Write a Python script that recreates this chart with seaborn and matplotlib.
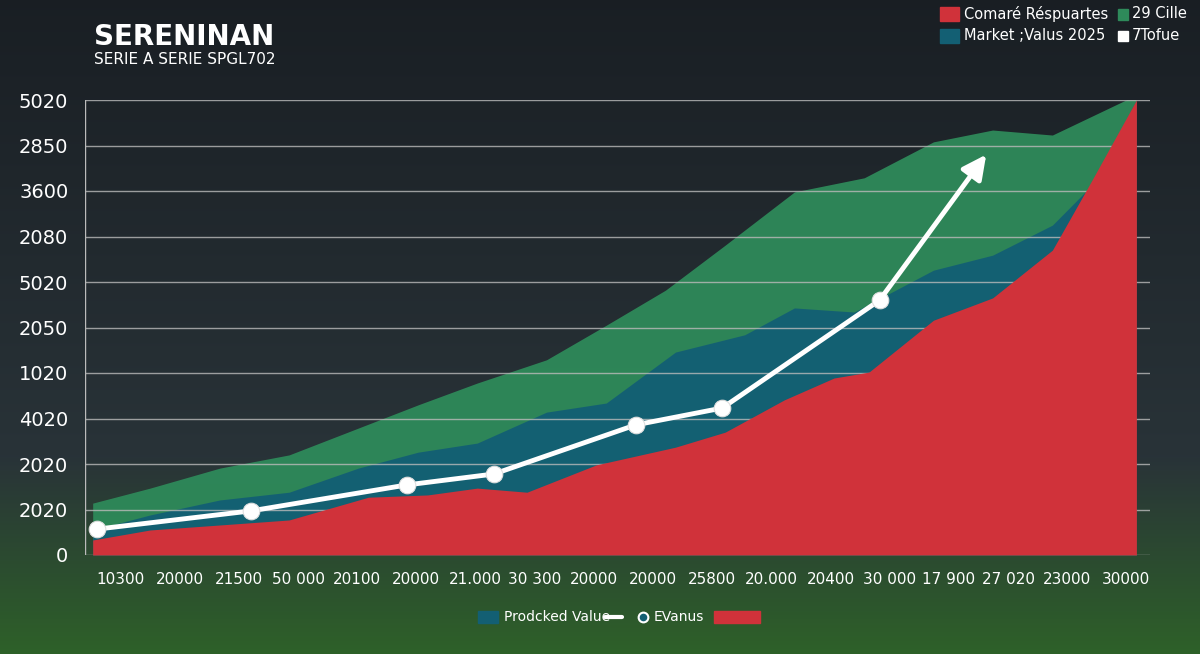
import numpy as np
import matplotlib
matplotlib.use("Agg")
import matplotlib.pyplot as plt
import seaborn as sns

sns.set_theme(style="dark")
plt.rcParams['font.family'] = ['DejaVu Sans']

x_labels = ["10300","20000","21500","50 000","20100","20000","21.000","30 300","20000",
            "20000","25800","20.000","20400","30 000","17 900","27 020","23000","30000"]
y_labels = ["0","2020","2020","4020","1020","2050","5020","2080","3600","2850","5020"]

red_x = [-0.47,0.5,1.68,2.85,4.19,5.19,6.03,6.87,8.04,9.38,10.22,11.22,12.06,12.65,13.74,14.74,15.75,16.42,17.17]
red_y = [0.33,0.55,0.66,0.77,1.27,1.32,1.47,1.38,1.98,2.37,2.70,3.41,3.89,4.02,5.16,5.65,6.70,8.24,10.0]
teal_x = [-0.47,0.5,1.68,2.85,4.02,5.03,6.03,7.20,8.21,9.38,10.55,11.39,12.40,13.74,14.74,15.75,16.42,17.17]
teal_y = [0.55,0.88,1.21,1.38,1.91,2.26,2.46,3.14,3.34,4.46,4.84,5.43,5.34,6.26,6.59,7.25,8.13,10.0]
green_x = [-0.47,0.5,1.68,2.85,4.02,5.03,6.03,7.20,8.21,9.21,10.22,11.39,12.57,13.74,14.74,15.75,17.17]
green_y = [1.14,1.47,1.91,2.20,2.79,3.30,3.78,4.29,5.05,5.82,6.81,7.98,8.29,9.08,9.34,9.23,10.11]
line_x = [-0.39,2.21,4.84,6.31,8.71,10.17,12.83]
line_y = [0.57,0.97,1.54,1.78,2.86,3.23,5.60]
arrow_end = (14.66, 8.85)

fig = plt.figure(figsize=(12, 6.54), dpi=100)
bg = fig.add_axes([0, 0, 1, 1], zorder=-10)
g = np.linspace(0, 1, 300)
top = np.array([0.10, 0.12, 0.14]); mid = np.array([0.16, 0.20, 0.22]); bot = np.array([0.18, 0.38, 0.16])
img = np.zeros((300, 1, 3))
for i, t in enumerate(g):
    img[i, 0] = top + (mid - top) * (t / 0.7) if t < 0.7 else mid + (bot - mid) * ((t - 0.7) / 0.3)
bg.imshow(img, aspect='auto', extent=[0, 1, 0, 1], origin='upper')
bg.axis('off')

ax = fig.add_axes([85/1200, 1-555/654, (1150-85)/1200, 455/654])
ax.patch.set_alpha(0)
ax.set_xlim(-0.6, 17.4)
ax.set_ylim(0, 10)

ax.fill_between(green_x, 0, green_y, color="#2e8a5a", alpha=0.95, lw=0, zorder=1)
ax.fill_between(teal_x, 0, teal_y, color="#135f73", alpha=0.97, lw=0, zorder=2)
ax.fill_between(red_x, 0, red_y, color="#d0323a", lw=0, zorder=3)
sns.lineplot(x=line_x, y=line_y, ax=ax, color="white", lw=3.5, marker="o", markersize=12,
             markerfacecolor="white", markeredgecolor="#dddddd", zorder=5, sort=False)
ax.annotate("", xy=arrow_end, xytext=(line_x[-1], line_y[-1]),
            arrowprops=dict(arrowstyle="-|>,head_length=1.2,head_width=0.6", color="white", lw=3.5), zorder=5)

ax.set_yticks(range(11))
ax.set_yticklabels(y_labels, color="white", fontsize=14)
ax.set_xticks(range(18))
ax.set_xticklabels(x_labels, color="white", fontsize=11)
ax.tick_params(axis='x', pad=12, length=0)
ax.tick_params(axis='y', pad=12, length=0)
ax.yaxis.grid(True, color="#bbbbbb", lw=1, alpha=0.8)
ax.xaxis.grid(False)
ax.set_axisbelow(False)
for s in ax.spines.values():
    s.set_visible(False)
ax.axvline(-0.6, color="#bbbbbb", lw=1)

fig.text(0.078, 0.965, "SERENINAN", color="white", fontsize=20, fontweight="bold", va="top")
fig.text(0.078, 0.92, "SERIE A SERIE SPGL702", color="white", fontsize=11, va="top")

def sq(x, y, c, w=0.016, h=0.022):
    fig.patches.append(plt.Rectangle((x, y), w, h, transform=fig.transFigure, color=c))
sq(0.783, 0.968, "#d0323a"); fig.text(0.803, 0.979, "Comaré Résрuartes", color="white", fontsize=10.5, va="center")
sq(0.783, 0.934, "#135f73"); fig.text(0.803, 0.945, "Market ;Valus 2025", color="white", fontsize=10.5, va="center")
sq(0.932, 0.970, "#2e8a5a", 0.008, 0.016); fig.text(0.943, 0.979, "29 Cille", color="white", fontsize=10.5, va="center")
sq(0.932, 0.937, "white", 0.008, 0.016); fig.text(0.943, 0.945, "7Tofue", color="white", fontsize=10.5, va="center")

fig.patches.append(plt.Rectangle((0.398, 0.047), 0.017, 0.018, transform=fig.transFigure, color="#135f73"))
fig.text(0.420, 0.056, "Prodcked Value", color="white", fontsize=10, va="center")
fig.lines.append(plt.Line2D([0.504, 0.518], [0.056, 0.056], transform=fig.transFigure, color="white", lw=3))
fig.lines.append(plt.Line2D([0.536], [0.056], transform=fig.transFigure, marker="o", markersize=7,
                            markerfacecolor="#135f73", markeredgecolor="white", markeredgewidth=1.5))
fig.text(0.545, 0.056, "EVanus", color="white", fontsize=10, va="center")
fig.patches.append(plt.Rectangle((0.595, 0.047), 0.038, 0.018, transform=fig.transFigure, color="#d0323a"))

fig.savefig("out.png", dpi=100)
